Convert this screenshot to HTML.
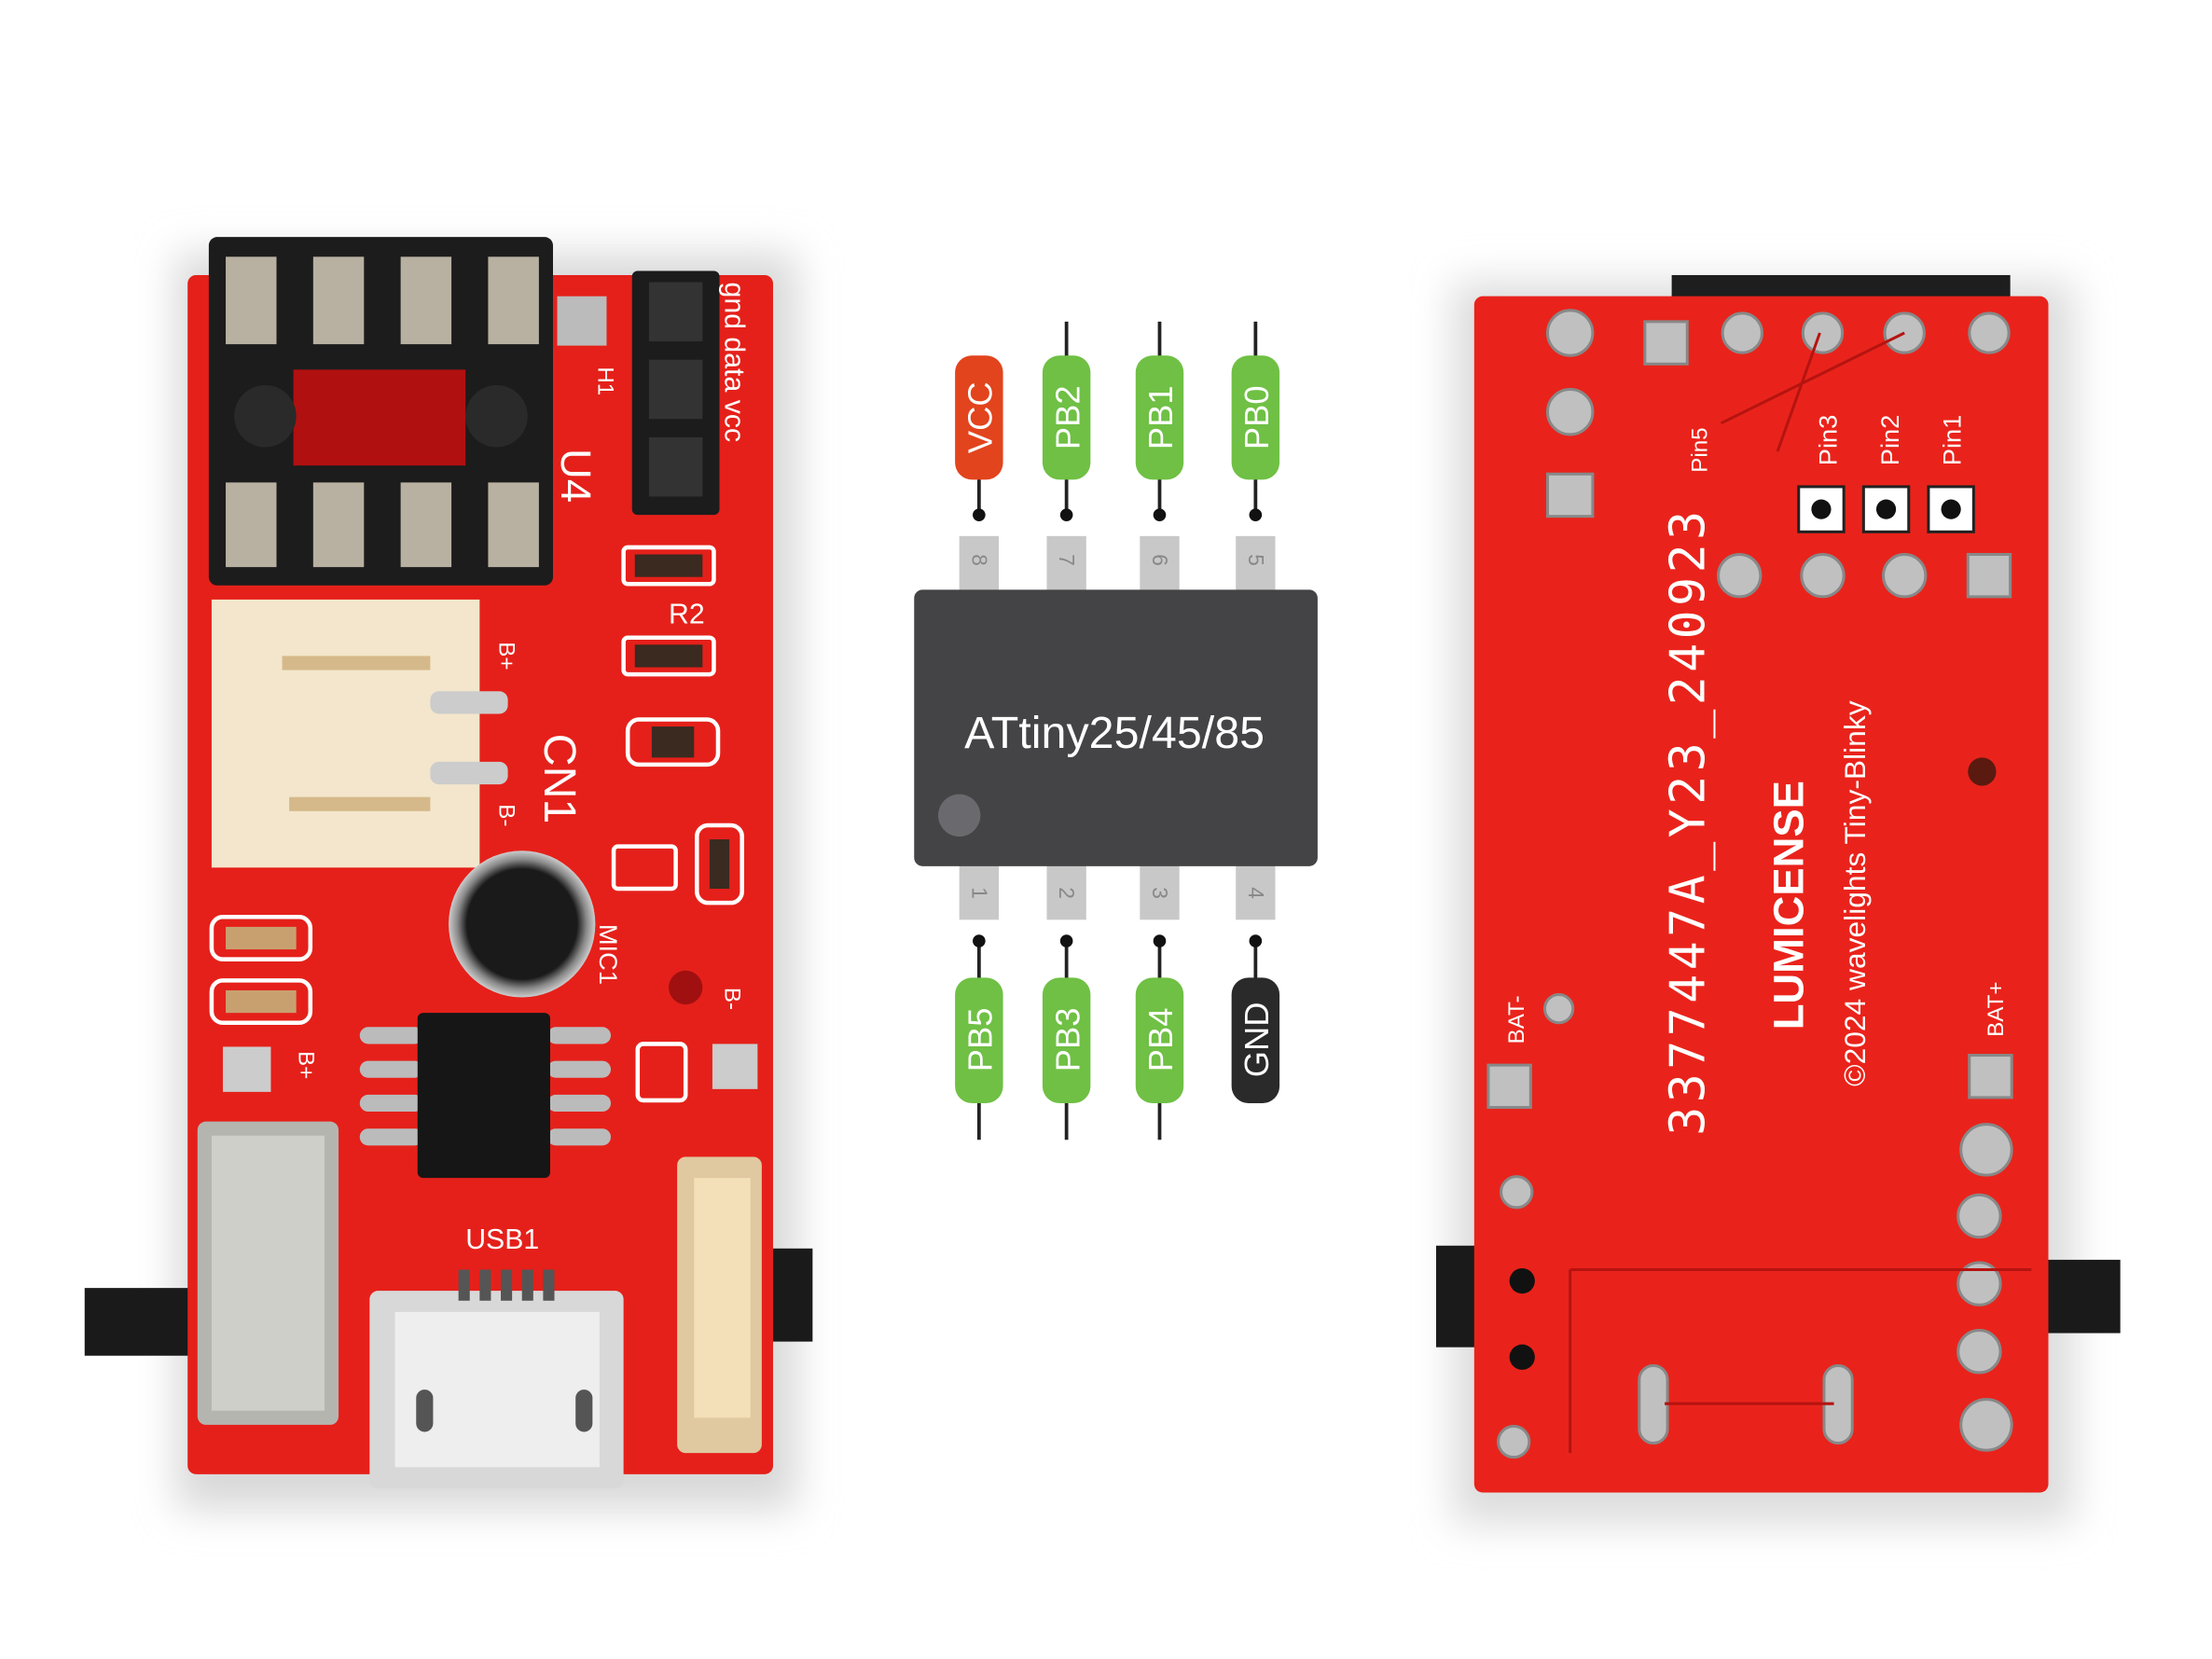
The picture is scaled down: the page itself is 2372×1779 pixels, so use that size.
<!DOCTYPE html>
<html><head><meta charset="utf-8"><style>html,body{margin:0;padding:0;background:#fff}svg{display:block}</style></head>
<body>
<svg width="2372" height="1779" viewBox="0 0 1568 1176" xmlns="http://www.w3.org/2000/svg" font-family="Liberation Sans, sans-serif">
<defs>
<filter id="sh" x="-20%" y="-20%" width="140%" height="140%"><feGaussianBlur stdDeviation="14"/></filter>
<radialGradient id="mic" cx="50%" cy="50%" r="50%"><stop offset="0.75" stop-color="#1a1a1a"/><stop offset="0.88" stop-color="#888"/><stop offset="1" stop-color="#ccc"/></radialGradient>
</defs>
<rect width="1568" height="1176" fill="#fff"/>
<!-- shadows -->
<rect x="125" y="180" width="440" height="890" fill="#d8d8d8" filter="url(#sh)"/>
<rect x="1030" y="200" width="440" height="880" fill="#dcdcdc" filter="url(#sh)"/>

<!-- LEFT PCB -->
<rect x="60" y="913" width="90" height="48" fill="#1a1a1a"/>
<rect x="540" y="885" width="36" height="66" fill="#1a1a1a"/>
<rect x="133" y="195" width="415" height="850" rx="6" fill="#e5201a"/>
<!-- socket -->
<rect x="148" y="168" width="244" height="247" rx="6" fill="#1c1c1c"/>
<rect x="208" y="262" width="122" height="68" fill="#b01010"/>
<circle cx="188" cy="295" r="22" fill="#2a2a2a"/><circle cx="352" cy="295" r="22" fill="#2a2a2a"/>
<g fill="#b8b0a0">
<rect x="160" y="182" width="36" height="62"/><rect x="222" y="182" width="36" height="62"/><rect x="284" y="182" width="36" height="62"/><rect x="346" y="182" width="36" height="62"/>
<rect x="160" y="342" width="36" height="60"/><rect x="222" y="342" width="36" height="60"/><rect x="284" y="342" width="36" height="60"/><rect x="346" y="342" width="36" height="60"/>
</g>
<rect x="395" y="210" width="35" height="35" fill="#bbb"/>
<!-- header -->
<rect x="448" y="192" width="62" height="173" rx="4" fill="#1c1c1c"/>
<g fill="#333"><rect x="460" y="200" width="38" height="42"/><rect x="460" y="255" width="38" height="42"/><rect x="460" y="310" width="38" height="42"/></g>
<g fill="#fff" font-size="20">
<text transform="translate(514,200) rotate(90)">gnd data vcc</text>
<text transform="translate(398,318) rotate(90)" font-size="30">U4</text>
<text transform="translate(424,260) rotate(90)" font-size="16">H1</text>
<text transform="translate(386,520) rotate(90)" font-size="32">CN1</text>
<text transform="translate(354,455) rotate(90)" font-size="16">B+</text>
<text transform="translate(354,570) rotate(90)" font-size="16">B-</text>
<text transform="translate(425,655) rotate(90)" font-size="18">MIC1</text>
<text x="474" y="442" font-size="20">R2</text>
</g>
<!-- SMD -->
<g fill="none" stroke="#fff" stroke-width="3">
<rect x="442" y="388" width="64" height="26" rx="3"/><rect x="442" y="452" width="64" height="26" rx="3"/><rect x="445" y="510" width="64" height="32" rx="8"/>
<rect x="435" y="600" width="44" height="30" rx="3"/><rect x="494" y="585" width="32" height="55" rx="8"/>
<rect x="150" y="650" width="70" height="30" rx="8"/><rect x="150" y="695" width="70" height="30" rx="8"/>
<rect x="452" y="740" width="34" height="40" rx="4"/>
</g>
<g fill="#3a2a20"><rect x="450" y="393" width="48" height="16"/><rect x="450" y="457" width="48" height="16"/><rect x="462" y="515" width="30" height="22"/><rect x="503" y="595" width="14" height="35"/><rect x="160" y="657" width="50" height="16" fill="#c8a070"/><rect x="160" y="702" width="50" height="16" fill="#c8a070"/></g>
<!-- cream connector -->
<rect x="150" y="425" width="190" height="190" fill="#f3e6cc"/>
<rect x="200" y="465" width="105" height="10" fill="#d6b98a"/><rect x="205" y="565" width="100" height="10" fill="#d6b98a"/>
<rect x="305" y="490" width="55" height="16" rx="6" fill="#ccc"/><rect x="305" y="540" width="55" height="16" rx="6" fill="#ccc"/>
<!-- mic -->
<circle cx="370" cy="655" r="52" fill="url(#mic)"/>
<circle cx="486" cy="700" r="12" fill="#a01010"/>
<rect x="158" y="742" width="34" height="32" fill="#ccc"/><rect x="505" y="740" width="32" height="32" fill="#ccc"/>
<text transform="translate(212,745) rotate(90)" fill="#fff" font-size="16">B+</text>
<text transform="translate(514,700) rotate(90)" fill="#fff" font-size="16">B-</text>
<!-- chip -->
<g fill="#bbb"><rect x="255" y="728" width="45" height="12" rx="6"/><rect x="255" y="752" width="45" height="12" rx="6"/><rect x="255" y="776" width="45" height="12" rx="6"/><rect x="255" y="800" width="45" height="12" rx="6"/>
<rect x="388" y="728" width="45" height="12" rx="6"/><rect x="388" y="752" width="45" height="12" rx="6"/><rect x="388" y="776" width="45" height="12" rx="6"/><rect x="388" y="800" width="45" height="12" rx="6"/></g>
<rect x="296" y="718" width="94" height="117" rx="4" fill="#161616"/>
<!-- metal switch -->
<rect x="140" y="795" width="100" height="215" rx="6" fill="#b5b5b0"/>
<rect x="150" y="805" width="80" height="195" fill="#cfcfca"/>
<!-- usb -->
<rect x="262" y="915" width="180" height="140" rx="6" fill="#d8d8d8"/>
<rect x="280" y="930" width="145" height="110" fill="#eee"/>
<g fill="#555"><rect x="325" y="900" width="8" height="22"/><rect x="340" y="900" width="8" height="22"/><rect x="355" y="900" width="8" height="22"/><rect x="370" y="900" width="8" height="22"/><rect x="385" y="900" width="8" height="22"/></g>
<rect x="295" y="985" width="12" height="30" rx="6" fill="#555"/><rect x="408" y="985" width="12" height="30" rx="6" fill="#555"/>
<text x="330" y="885" fill="#fff" font-size="20">USB1</text>
<!-- slide switch -->
<rect x="480" y="820" width="60" height="210" rx="6" fill="#e0c8a0"/>
<rect x="492" y="835" width="40" height="170" fill="#f3dfb8"/>

<!-- RIGHT PCB -->
<rect x="1018" y="883" width="34" height="72" fill="#1a1a1a"/>
<rect x="1445" y="893" width="58" height="52" fill="#1a1a1a"/>
<rect x="1185" y="195" width="240" height="25" fill="#1e1e1e"/>
<rect x="1045" y="210" width="407" height="848" rx="6" fill="#e9231b"/>
<g fill="#c0c0c0" stroke="#888" stroke-width="2">
<circle cx="1113" cy="236" r="16"/><circle cx="1235" cy="236" r="14"/><circle cx="1292" cy="236" r="14"/><circle cx="1350" cy="236" r="14"/><circle cx="1410" cy="236" r="14"/>
<circle cx="1113" cy="292" r="16"/><rect x="1097" y="336" width="32" height="30"/>
<rect x="1166" y="228" width="30" height="30"/>
<circle cx="1233" cy="408" r="15"/><circle cx="1292" cy="408" r="15"/><circle cx="1350" cy="408" r="15"/><rect x="1395" y="393" width="30" height="30"/>
<rect x="1055" y="755" width="30" height="30"/><rect x="1396" y="748" width="30" height="30"/>
<circle cx="1075" cy="845" r="11"/><circle cx="1073" cy="1022" r="11"/>
<circle cx="1408" cy="815" r="18"/><circle cx="1403" cy="862" r="15"/><circle cx="1403" cy="910" r="15"/><circle cx="1403" cy="958" r="15"/><circle cx="1408" cy="1010" r="18"/>
<rect x="1162" y="968" width="20" height="55" rx="10"/><rect x="1293" y="968" width="20" height="55" rx="10"/>
<circle cx="1105" cy="715" r="10"/>
</g>
<g fill="#fff" stroke="#222" stroke-width="2"><rect x="1275" y="345" width="32" height="32"/><rect x="1321" y="345" width="32" height="32"/><rect x="1367" y="345" width="32" height="32"/></g>
<g fill="#111"><circle cx="1291" cy="361" r="7"/><circle cx="1337" cy="361" r="7"/><circle cx="1383" cy="361" r="7"/><circle cx="1079" cy="908" r="9"/><circle cx="1079" cy="962" r="9"/></g>
<circle cx="1405" cy="547" r="10" fill="#5a1a10"/>
<g fill="none" stroke="#b51410" stroke-width="2">
<path d="M1113 900 H1440 M1113 900 V1030 M1180 995 H1300 M1350 236 L1220 300 M1290 236 L1260 320"/>
</g>
<g fill="#fff">
<text transform="translate(1208,805) rotate(-90)" font-family="DejaVu Sans Mono, Liberation Mono, monospace" font-size="34" letter-spacing="3">3377447A_Y23_240923</text>
<text transform="translate(1278,730) rotate(-90)" font-size="30" font-weight="bold">LUMICENSE</text>
<text transform="translate(1322,770) rotate(-90)" font-size="21">©2024 wavelights Tiny-Blinky</text>
<text transform="translate(1210,335) rotate(-90)" font-size="16">Pin5</text>
<text transform="translate(1302,330) rotate(-90)" font-size="18">Pin3</text>
<text transform="translate(1346,330) rotate(-90)" font-size="18">Pin2</text>
<text transform="translate(1390,330) rotate(-90)" font-size="18">Pin1</text>
<text transform="translate(1080,740) rotate(-90)" font-size="16">BAT-</text>
<text transform="translate(1420,735) rotate(-90)" font-size="16">BAT+</text>
</g>

<!-- CENTER DIAGRAM -->
<g stroke="#222" stroke-width="2.5">
<line x1="694" y1="290" x2="694" y2="365"/><line x1="756" y1="228" x2="756" y2="365"/><line x1="822" y1="228" x2="822" y2="365"/><line x1="890" y1="228" x2="890" y2="365"/>
<line x1="694" y1="667" x2="694" y2="808"/><line x1="756" y1="667" x2="756" y2="808"/><line x1="822" y1="667" x2="822" y2="808"/><line x1="890" y1="667" x2="890" y2="740"/>
</g>
<g fill="#111"><circle cx="694" cy="365" r="4.5"/><circle cx="756" cy="365" r="4.5"/><circle cx="822" cy="365" r="4.5"/><circle cx="890" cy="365" r="4.5"/>
<circle cx="694" cy="667" r="4.5"/><circle cx="756" cy="667" r="4.5"/><circle cx="822" cy="667" r="4.5"/><circle cx="890" cy="667" r="4.5"/></g>
<rect x="677" y="252" width="34" height="88" rx="12" fill="#e2441d"/>
<rect x="739" y="252" width="34" height="88" rx="12" fill="#6fc044"/>
<rect x="805" y="252" width="34" height="88" rx="12" fill="#6fc044"/>
<rect x="873" y="252" width="34" height="88" rx="12" fill="#6fc044"/>
<rect x="677" y="693" width="34" height="89" rx="12" fill="#6fc044"/>
<rect x="739" y="693" width="34" height="89" rx="12" fill="#6fc044"/>
<rect x="805" y="693" width="34" height="89" rx="12" fill="#6fc044"/>
<rect x="873" y="693" width="34" height="89" rx="12" fill="#2a2a2a"/>
<g fill="#fff" font-size="24" text-anchor="middle">
<text transform="translate(703,296) rotate(-90)">VCC</text>
<text transform="translate(765,296) rotate(-90)">PB2</text>
<text transform="translate(831,296) rotate(-90)">PB1</text>
<text transform="translate(899,296) rotate(-90)">PB0</text>
<text transform="translate(703,737) rotate(-90)">PB5</text>
<text transform="translate(765,737) rotate(-90)">PB3</text>
<text transform="translate(831,737) rotate(-90)">PB4</text>
<text transform="translate(899,737) rotate(-90)">GND</text>
</g>
<g fill="#c8c8c8"><rect x="680" y="380" width="28" height="40"/><rect x="742" y="380" width="28" height="40"/><rect x="808" y="380" width="28" height="40"/><rect x="876" y="380" width="28" height="40"/>
<rect x="680" y="612" width="28" height="40"/><rect x="742" y="612" width="28" height="40"/><rect x="808" y="612" width="28" height="40"/><rect x="876" y="612" width="28" height="40"/></g>
<g fill="#888" font-size="15" text-anchor="middle">
<text transform="translate(689,397) rotate(90)">8</text><text transform="translate(751,397) rotate(90)">7</text><text transform="translate(817,397) rotate(90)">6</text><text transform="translate(885,397) rotate(90)">5</text>
<text transform="translate(689,633) rotate(90)">1</text><text transform="translate(751,633) rotate(90)">2</text><text transform="translate(817,633) rotate(90)">3</text><text transform="translate(885,633) rotate(90)">4</text>
</g>
<rect x="648" y="418" width="286" height="196" rx="6" fill="#444446"/>
<circle cx="680" cy="578" r="15" fill="#6a6a6e"/>
<text x="790" y="530" fill="#fff" font-size="32" text-anchor="middle">ATtiny25/45/85</text>
</svg>
</body></html>
